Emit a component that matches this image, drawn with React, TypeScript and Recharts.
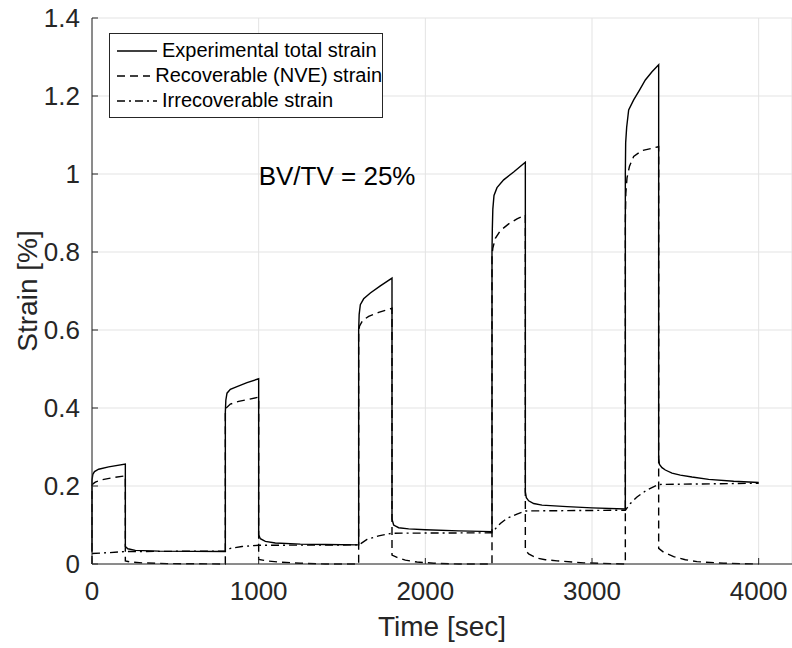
import { LineChart, Line, XAxis, YAxis, CartesianGrid, Label, ReferenceDot } from "recharts";

// creep / recovery cycles: 200 s loading, 600 s recovery, five load levels
const totalTime = [
  0, 0, 5, 15, 40, 100, 200,
  200, 215, 260, 400, 800,
  800, 803, 810, 830, 870, 930, 1000,
  1000, 1010, 1040, 1100, 1250, 1400, 1600,
  1600, 1603, 1610, 1630, 1670, 1730, 1800,
  1800, 1810, 1840, 1900, 2000, 2200, 2400,
  2400, 2402, 2405, 2412, 2430, 2470, 2530, 2600,
  2600, 2606, 2620, 2650, 2700, 2850, 3000, 3200,
  3200, 3202, 3208, 3220, 3250, 3285, 3320, 3360, 3400,
  3400, 3405, 3420, 3440, 3480, 3530, 3600, 3700, 3850, 4000,
];
const totalStrain = [
  0.03, 0.215, 0.23, 0.237, 0.243, 0.249, 0.256,
  0.045, 0.039, 0.035, 0.033, 0.032,
  0.39, 0.42, 0.438, 0.448, 0.455, 0.465, 0.475,
  0.075, 0.065, 0.058, 0.054, 0.051, 0.05, 0.049,
  0.6, 0.64, 0.665, 0.68, 0.695, 0.713, 0.733,
  0.115, 0.1, 0.093, 0.09, 0.088, 0.085, 0.083,
  0.8, 0.86, 0.91, 0.945, 0.965, 0.985, 1.005, 1.03,
  0.185, 0.17, 0.162, 0.155, 0.151, 0.147, 0.144, 0.141,
  1.0, 1.08, 1.12, 1.164, 1.19, 1.215, 1.241, 1.262, 1.28,
  0.27, 0.255, 0.247, 0.241, 0.233, 0.228, 0.223, 0.217, 0.212, 0.209,
];

const nveTime = [
  0, 0, 5, 20, 60, 120, 200,
  200, 230, 300, 450, 800,
  800, 805, 830, 880, 940, 1000,
  1000, 1050, 1120, 1250, 1400, 1600,
  1600, 1605, 1625, 1660, 1720, 1800,
  1800, 1830, 1880, 1950, 2050, 2200, 2400,
  2400, 2405, 2420, 2450, 2500, 2550, 2600,
  2600, 2620, 2670, 2720, 2790, 2950, 3200,
  3200, 3203, 3210, 3225, 3250, 3300, 3400,
  3400, 3430, 3490, 3560, 3630, 3790, 4000,
];
const nveStrain = [
  0, 0.2, 0.205, 0.21, 0.216, 0.221, 0.226,
  0.008, 0.005, 0.003, 0.001, 0,
  0.385, 0.4, 0.41, 0.417, 0.422, 0.428,
  0.012, 0.008, 0.005, 0.002, 0, 0,
  0.59, 0.61, 0.625, 0.635, 0.645, 0.656,
  0.023, 0.017, 0.01, 0.005, 0.002, 0, 0,
  0.79, 0.81, 0.835, 0.855, 0.872, 0.885, 0.895,
  0.036, 0.026, 0.015, 0.011, 0.008, 0.003, 0,
  0.88, 0.95, 0.99, 1.02, 1.045, 1.06, 1.07,
  0.04, 0.03, 0.019, 0.011, 0.006, 0.002, 0,
];

const irrTime = [
  0, 100, 200, 800, 830, 900, 1000, 1600, 1615, 1650, 1720, 1800,
  2400, 2420, 2450, 2490, 2550, 2600, 3200, 3230, 3270, 3330, 3400, 4000,
];
const irrStrain = [
  0.027, 0.029, 0.032, 0.033, 0.04, 0.045, 0.048, 0.049, 0.053, 0.063, 0.072, 0.079,
  0.08, 0.09, 0.104, 0.117, 0.128, 0.136, 0.138, 0.155, 0.172, 0.19, 0.204, 0.207,
];

const xTicks = [0, 1000, 2000, 3000, 4000];
const yTicks = [0, 0.2, 0.4, 0.6, 0.8, 1, 1.2, 1.4];

const toPoints = (t: number[], v: number[]) => t.map((x, i) => ({ t: x, v: v[i] }));

const totalData = toPoints(totalTime, totalStrain);
const nveData = toPoints(nveTime, nveStrain);
const irrData = toPoints(irrTime, irrStrain);

const FONT = '"Liberation Sans", Arial, Helvetica, sans-serif';
const AXIS = "#262626";

const legendItems = [
  { name: "Experimental total strain", dash: undefined },
  { name: "Recoverable (NVE) strain", dash: "8 5" },
  { name: "Irrecoverable strain", dash: "8 4 2 4" },
];

function StrainLegend() {
  return (
    <div
      style={{
        position: "absolute",
        left: 109,
        top: 33,
        width: 274,
        height: 85,
        boxSizing: "border-box",
        border: `1px solid ${AXIS}`,
        background: "#fff",
        paddingTop: 4,
        fontFamily: FONT,
        fontSize: 20,
      }}
    >
      {legendItems.map((item) => (
        <div key={item.name} style={{ display: "flex", alignItems: "center", height: 25 }}>
          <svg width={40} height={10} style={{ marginLeft: 7, marginRight: 5 }}>
            <line x1={0} y1={5} x2={40} y2={5} stroke="#000" strokeWidth={1.4} strokeDasharray={item.dash} />
          </svg>
          <span style={{ color: "#000", whiteSpace: "nowrap" }}>{item.name}</span>
        </div>
      ))}
    </div>
  );
}

export default function App() {
  return (
    <div style={{ position: "absolute", left: 0, top: 0, width: 792, height: 648, fontFamily: FONT, background: "#fff" }}>
      <LineChart width={792} height={648} margin={{ top: 18, right: 0, bottom: 0, left: 0 }}>
        <CartesianGrid stroke="#e3e3e3" strokeWidth={1} />
        <XAxis
          type="number"
          dataKey="t"
          domain={[0, 4200]}
          ticks={xTicks}
          height={84}
          stroke={AXIS}
          tickSize={-6}
          tickMargin={24}
          tick={{ fill: AXIS, fontSize: 26, fontFamily: FONT }}
        >
          <Label value="Time [sec]" position="insideBottom" offset={12} fill={AXIS} fontSize={28} fontFamily={FONT} />
        </XAxis>
        <YAxis
          type="number"
          domain={[0, 1.4]}
          ticks={yTicks}
          width={92}
          stroke={AXIS}
          tickSize={-6}
          tickMargin={18}
          tick={{ fill: AXIS, fontSize: 26, fontFamily: FONT }}
        >
          <Label
            value="Strain [%]"
            position="insideLeft"
            angle={-90}
            offset={27}
            fill={AXIS}
            fontSize={28}
            fontFamily={FONT}
            style={{ textAnchor: "middle" }}
          />
        </YAxis>
        <Line data={irrData} dataKey="v" type="linear" stroke="#000" strokeWidth={1.4} strokeDasharray="8 4 2 4" dot={false} isAnimationActive={false} />
        <Line data={nveData} dataKey="v" type="linear" stroke="#000" strokeWidth={1.4} strokeDasharray="8 5" dot={false} isAnimationActive={false} />
        <Line data={totalData} dataKey="v" type="linear" stroke="#000" strokeWidth={1.4} dot={false} isAnimationActive={false} />
        <ReferenceDot
          x={1000}
          y={0.995}
          r={0}
          fill="none"
          stroke="none"
          label={{ value: "BV/TV = 25%", position: "right", offset: 0, fill: "#000", fontSize: 26, fontFamily: FONT }}
        />
      </LineChart>
      <StrainLegend />
    </div>
  );
}
